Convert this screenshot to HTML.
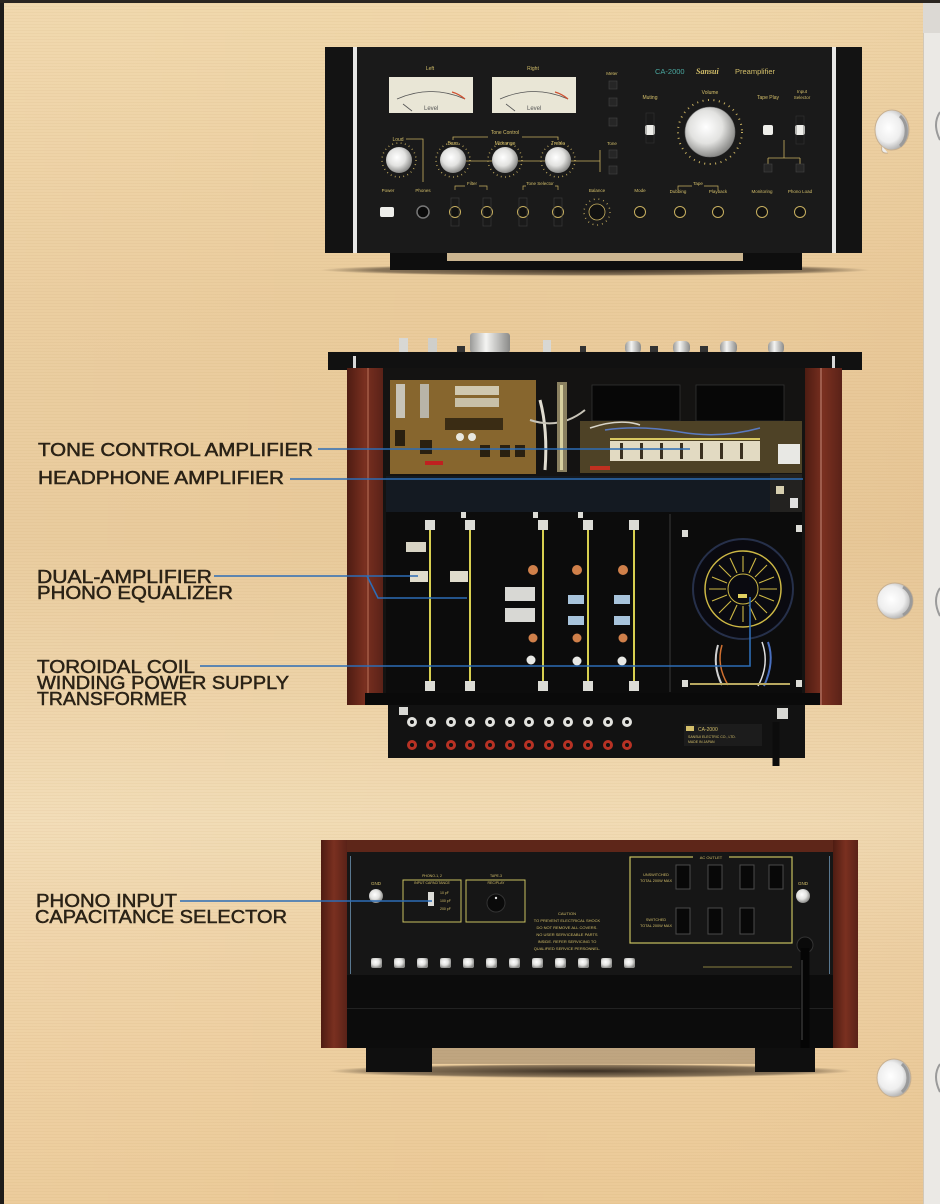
<!DOCTYPE html>
<html><head><meta charset="utf-8">
<style>
html,body{margin:0;padding:0;width:940px;height:1204px;overflow:hidden;background:#ecd0a2;}
svg{display:block}
.lb{font-family:"Liberation Sans",sans-serif;font-size:18.5px;fill:#2a2216;stroke:#2a2216;stroke-width:0.5px;}
.g{font-family:"Liberation Sans",sans-serif;fill:#d4bf6a;}
</style></head>
<body>
<svg width="940" height="1204" viewBox="0 0 940 1204" xmlns="http://www.w3.org/2000/svg">
<defs>
<linearGradient id="bg" x1="0" y1="0" x2="0" y2="1">
<stop offset="0" stop-color="#f0d7aa"/>
<stop offset="0.25" stop-color="#eacb9b"/>
<stop offset="0.45" stop-color="#e8c999"/>
<stop offset="0.6" stop-color="#eed4a9"/>
<stop offset="0.68" stop-color="#f1dbb4"/>
<stop offset="0.8" stop-color="#eed1a4"/>
<stop offset="1" stop-color="#ebc996"/>
</linearGradient>
<linearGradient id="bgh" x1="0" y1="0" x2="1" y2="0">
<stop offset="0" stop-color="#fff" stop-opacity="0.06"/>
<stop offset="0.5" stop-color="#fff" stop-opacity="0"/>
<stop offset="1" stop-color="#c89060" stop-opacity="0.06"/>
</linearGradient>
<pattern id="tex" width="6" height="3" patternUnits="userSpaceOnUse">
<rect width="6" height="1" fill="#c08a55" opacity="0.07"/>
</pattern>
<radialGradient id="kn" cx="0.42" cy="0.4" r="0.6">
<stop offset="0" stop-color="#ffffff"/>
<stop offset="0.55" stop-color="#e2e2e0"/>
<stop offset="1" stop-color="#8c8c8a"/>
</radialGradient>
<linearGradient id="wood" x1="0" y1="0" x2="1" y2="0">
<stop offset="0" stop-color="#4e1c12"/>
<stop offset="0.5" stop-color="#7a3020"/>
<stop offset="1" stop-color="#5a2218"/>
</linearGradient>
<linearGradient id="cyl" x1="0" y1="0" x2="1" y2="0">
<stop offset="0" stop-color="#9a9a98"/>
<stop offset="0.4" stop-color="#f4f4f2"/>
<stop offset="1" stop-color="#8a8a88"/>
</linearGradient>
<radialGradient id="hole" cx="0.4" cy="0.45" r="0.6">
<stop offset="0" stop-color="#ffffff"/>
<stop offset="0.6" stop-color="#eeeeee"/>
<stop offset="1" stop-color="#a8a8a8"/>
</radialGradient>
<radialGradient id="shd" cx="0.5" cy="0.5" r="0.5">
<stop offset="0" stop-color="#1a120c" stop-opacity="0.85"/>
<stop offset="0.8" stop-color="#2a2018" stop-opacity="0.5"/>
<stop offset="1" stop-color="#2a2018" stop-opacity="0"/>
</radialGradient>
</defs>

<!-- background -->
<rect width="940" height="1204" fill="url(#bg)"/>
<rect width="940" height="1204" fill="url(#bgh)"/>
<rect width="923" height="1204" fill="url(#tex)"/>
<!-- borders -->
<rect x="0" y="0" width="4" height="1204" fill="#1e1c1a"/>
<rect x="0" y="0" width="940" height="3" fill="#2a2520"/>
<rect x="923" y="3" width="17" height="1201" fill="#ebe9e5"/>
<rect x="923" y="3" width="1" height="1201" fill="#d2c8b8"/>
<rect x="923" y="3" width="17" height="30" fill="#dcd9d4"/>
<!-- binder holes -->
<g>
<ellipse cx="892" cy="130" rx="17" ry="20" fill="url(#hole)" stroke="#c8b090" stroke-width="1"/>
<path d="M882 146 q-2 8 6 7" fill="#eeeeee" stroke="#c8b090" stroke-width="1"/>
<path d="M900 116 a16 19 0 0 1 0 30" stroke="#9a9a9a" stroke-width="3" fill="none"/>
<ellipse cx="895" cy="601" rx="18" ry="18" fill="url(#hole)" stroke="#c8b090" stroke-width="1"/>
<path d="M903 587 a16 16 0 0 1 0 28" stroke="#9a9a9a" stroke-width="3" fill="none"/>
<ellipse cx="894" cy="1078" rx="17" ry="19" fill="url(#hole)" stroke="#c8b090" stroke-width="1"/>
<path d="M902 1064 a16 18 0 0 1 0 28" stroke="#9a9a9a" stroke-width="3" fill="none"/>
<path d="M940 112 q-8 12 0 28" stroke="#9a9a9a" stroke-width="2" fill="none"/>
<path d="M940 588 q-8 12 0 28" stroke="#9a9a9a" stroke-width="2" fill="none"/>
<path d="M940 1064 q-8 12 0 28" stroke="#9a9a9a" stroke-width="2" fill="none"/>
</g>

<!-- ================= FRONT PANEL ================= -->
<g>
<ellipse cx="595" cy="270" rx="275" ry="6" fill="url(#shd)"/>
<rect x="390" y="250" width="412" height="20" fill="#0e0e0e"/>
<rect x="447" y="253" width="296" height="8" fill="#cbb590"/>
<rect x="325" y="47" width="28" height="206" fill="#131313"/>
<rect x="353" y="47" width="4" height="206" fill="#e8e8e6"/>
<rect x="357" y="47" width="475" height="206" fill="#1a1a1a"/>
<rect x="832" y="47" width="4" height="206" fill="#e8e8e6"/>
<rect x="836" y="47" width="26" height="206" fill="#131313"/>
<!-- meters -->
<text class="g" x="430" y="70" font-size="5" text-anchor="middle">Left</text>
<text class="g" x="533" y="70" font-size="5" text-anchor="middle">Right</text>
<rect x="389" y="77" width="84" height="36" fill="#e9e6d6"/>
<path d="M397 99 Q431 84 465 99" stroke="#555" fill="none" stroke-width="0.8"/>
<path d="M452 92 Q459 94 465 99" stroke="#d05030" fill="none" stroke-width="1.2"/>
<line x1="403" y1="104" x2="412" y2="111" stroke="#555" stroke-width="0.8"/>
<text x="424" y="110" font-size="6" fill="#555" font-family="Liberation Sans,sans-serif">Level</text>
<rect x="492" y="77" width="84" height="36" fill="#e9e6d6"/>
<path d="M500 99 Q534 84 568 99" stroke="#555" fill="none" stroke-width="0.8"/>
<path d="M555 92 Q562 94 568 99" stroke="#d05030" fill="none" stroke-width="1.2"/>
<line x1="506" y1="104" x2="515" y2="111" stroke="#555" stroke-width="0.8"/>
<text x="527" y="110" font-size="6" fill="#555" font-family="Liberation Sans,sans-serif">Level</text>
<!-- meter buttons -->
<text class="g" x="612" y="75" font-size="4.5" text-anchor="middle">Meter</text>
<rect x="609" y="81" width="8" height="8" fill="#262626" stroke="#444" stroke-width="0.6"/>
<rect x="609" y="98" width="8" height="8" fill="#262626" stroke="#444" stroke-width="0.6"/>
<rect x="609" y="118" width="8" height="8" fill="#262626" stroke="#444" stroke-width="0.6"/>
<text class="g" x="612" y="145" font-size="4.5" text-anchor="middle">Tone</text>
<rect x="609" y="150" width="8" height="8" fill="#262626" stroke="#444" stroke-width="0.6"/>
<rect x="609" y="166" width="8" height="8" fill="#262626" stroke="#444" stroke-width="0.6"/>
<!-- brand -->
<text x="655" y="74" font-size="7.5" fill="#4aa8a0" font-family="Liberation Sans,sans-serif">CA-2000</text>
<text x="696" y="74" font-size="8" fill="#d4bf6a" font-family="Liberation Serif,serif" font-style="italic" font-weight="bold">Sansui</text>
<text x="735" y="74" font-size="7.5" fill="#d4bf6a" font-family="Liberation Sans,sans-serif">Preamplifier</text>
<!-- labels right -->
<text class="g" x="650" y="99" font-size="5" text-anchor="middle">Muting</text>
<text class="g" x="710" y="94" font-size="5" text-anchor="middle">Volume</text>
<text class="g" x="768" y="99" font-size="5" text-anchor="middle">Tape Play</text>
<text class="g" x="802" y="93" font-size="4.5" text-anchor="middle">Input</text>
<text class="g" x="802" y="99" font-size="4.5" text-anchor="middle">Selector</text>
<!-- volume -->
<circle cx="710" cy="132" r="32" fill="none" stroke="#c8b060" stroke-width="2" stroke-dasharray="1 4.5"/>
<circle cx="710" cy="132" r="25" fill="url(#kn)"/>
<circle cx="710" cy="132" r="25" fill="none" stroke="#777" stroke-width="0.6"/>
<!-- muting / tape / input switches -->
<rect x="645" y="125" width="10" height="10" rx="2" fill="#eeeeea"/>
<rect x="646" y="113" width="8" height="30" fill="none" stroke="#333" stroke-width="0.6"/>
<rect x="763" y="125" width="10" height="10" rx="2" fill="#eeeeea"/>
<rect x="795" y="125" width="10" height="10" rx="2" fill="#eeeeea"/>
<rect x="796" y="116" width="8" height="28" fill="none" stroke="#333" stroke-width="0.6"/>
<path d="M784 140 V158 M768 158 H800 M768 158 V164 M800 158 V164" stroke="#c8b060" stroke-width="0.8" fill="none"/>
<rect x="764" y="164" width="8" height="8" fill="#262626" stroke="#444" stroke-width="0.6"/>
<rect x="796" y="164" width="8" height="8" fill="#262626" stroke="#444" stroke-width="0.6"/>
<!-- tone control -->
<text class="g" x="505" y="134" font-size="5" text-anchor="middle">Tone Control</text>
<path d="M453 140 V137 H488 M522 137 H558 V140" stroke="#c8b060" stroke-width="0.8" fill="none"/>
<text class="g" x="398" y="141" font-size="5" text-anchor="middle">Loud</text>
<path d="M406 139 H423 V182" stroke="#c8b060" stroke-width="0.8" fill="none"/>
<text class="g" x="453" y="145" font-size="5" text-anchor="middle">Bass</text>
<text class="g" x="505" y="145" font-size="5" text-anchor="middle">Midrange</text>
<text class="g" x="558" y="145" font-size="5" text-anchor="middle">Treble</text>
<path d="M466 161 H492 M518 161 H545 M571 161 H600 M600 150 V172" stroke="#c8b060" stroke-width="0.8" fill="none"/>
<g fill="none" stroke="#c8b060" stroke-width="1.5" stroke-dasharray="0.8 3.5">
<circle cx="399" cy="160" r="17"/><circle cx="453" cy="160" r="17"/><circle cx="505" cy="160" r="17"/><circle cx="558" cy="160" r="17"/>
</g>
<circle cx="399" cy="160" r="13" fill="url(#kn)"/>
<circle cx="453" cy="160" r="13" fill="url(#kn)"/>
<circle cx="505" cy="160" r="13" fill="url(#kn)"/>
<circle cx="558" cy="160" r="13" fill="url(#kn)"/>
<!-- bottom row -->
<text class="g" x="388" y="192" font-size="4.5" text-anchor="middle">Power</text>
<text class="g" x="423" y="192" font-size="4.5" text-anchor="middle">Phones</text>
<text class="g" x="472" y="185" font-size="4.5" text-anchor="middle">Filter</text>
<path d="M455 190 V186 H465 M479 186 H487 V190" stroke="#c8b060" stroke-width="0.7" fill="none"/>
<text class="g" x="540" y="185" font-size="4.5" text-anchor="middle">Tone Selector</text>
<path d="M523 190 V186 H526 M555 186 H558 V190" stroke="#c8b060" stroke-width="0.7" fill="none"/>
<text class="g" x="597" y="192" font-size="4.5" text-anchor="middle">Balance</text>
<text class="g" x="640" y="192" font-size="4.5" text-anchor="middle">Mode</text>
<text class="g" x="698" y="185" font-size="4.5" text-anchor="middle">Tape</text>
<path d="M678 190 V186 H692 M704 186 H718 V190" stroke="#c8b060" stroke-width="0.7" fill="none"/>
<text class="g" x="678" y="193" font-size="4.5" text-anchor="middle">Dubbing</text>
<text class="g" x="718" y="193" font-size="4.5" text-anchor="middle">Playback</text>
<text class="g" x="762" y="193" font-size="4.5" text-anchor="middle">Monitoring</text>
<text class="g" x="800" y="193" font-size="4.5" text-anchor="middle">Phono Load</text>
<rect x="380" y="207" width="14" height="10" rx="2" fill="#eeeeea"/>
<circle cx="423" cy="212" r="6" fill="#0a0a0a" stroke="#777" stroke-width="1.5"/>
<g fill="#111" stroke="#c8b060" stroke-width="1">
<circle cx="455" cy="212" r="5.5"/><circle cx="487" cy="212" r="5.5"/><circle cx="523" cy="212" r="5.5"/><circle cx="558" cy="212" r="5.5"/>
<circle cx="640" cy="212" r="5.5"/><circle cx="680" cy="212" r="5.5"/><circle cx="718" cy="212" r="5.5"/><circle cx="762" cy="212" r="5.5"/><circle cx="800" cy="212" r="5.5"/>
</g>
<circle cx="597" cy="212" r="13" fill="none" stroke="#c8b060" stroke-width="1.5" stroke-dasharray="0.8 4"/>
<circle cx="597" cy="212" r="8" fill="#111" stroke="#c8b060" stroke-width="0.8"/>
<g fill="none" stroke="#3a3a3a" stroke-width="0.7">
<rect x="451" y="198" width="8" height="28"/><rect x="483" y="198" width="8" height="28"/><rect x="519" y="198" width="8" height="28"/><rect x="554" y="198" width="8" height="28"/>
</g>
</g>

<!-- ================= TOP VIEW ================= -->
<g>
<!-- protruding knobs -->
<rect x="399" y="338" width="9" height="15" fill="#d8d8d4"/>
<rect x="428" y="338" width="9" height="15" fill="#cfcfcb"/>
<rect x="470" y="333" width="40" height="20" rx="3" fill="url(#cyl)"/>
<rect x="543" y="340" width="8" height="13" fill="#d8d8d4"/>
<rect x="457" y="346" width="8" height="7" fill="#333"/>
<rect x="580" y="346" width="6" height="7" fill="#333"/>
<rect x="650" y="346" width="8" height="7" fill="#333"/>
<rect x="700" y="346" width="8" height="7" fill="#333"/>
<rect x="625" y="341" width="16" height="13" rx="5" fill="url(#cyl)"/>
<rect x="673" y="341" width="17" height="13" rx="5" fill="url(#cyl)"/>
<rect x="720" y="341" width="17" height="13" rx="5" fill="url(#cyl)"/>
<rect x="768" y="341" width="16" height="13" rx="5" fill="url(#cyl)"/>
<!-- front bar -->
<rect x="328" y="352" width="534" height="18" fill="#111"/>
<rect x="353" y="356" width="3" height="14" fill="#d8d8d8"/>
<rect x="832" y="356" width="3" height="14" fill="#d8d8d8"/>
<!-- wood sides -->
<rect x="347" y="368" width="36" height="337" fill="url(#wood)"/>
<rect x="367" y="368" width="2" height="337" fill="#a86048" opacity="0.7"/>
<rect x="805" y="368" width="37" height="337" fill="url(#wood)"/>
<rect x="820" y="368" width="2" height="337" fill="#b07060" opacity="0.7"/>
<!-- chassis -->
<rect x="383" y="368" width="422" height="332" fill="#141312"/>
<!-- upper boards -->
<rect x="390" y="380" width="146" height="94" fill="#87662e"/>
<rect x="396" y="384" width="9" height="34" fill="#c8c4b8"/>
<rect x="420" y="384" width="9" height="34" fill="#b8b4a8"/>
<rect x="455" y="386" width="44" height="9" fill="#d0c8b0"/>
<rect x="455" y="398" width="44" height="9" fill="#c8c0a8"/>
<rect x="445" y="418" width="58" height="12" fill="#3a2c14"/>
<circle cx="460" cy="437" r="4" fill="#e8e8e0"/><circle cx="472" cy="437" r="4" fill="#e8e8e0"/>
<g fill="#2a2010"><rect x="395" y="430" width="10" height="16"/><rect x="420" y="440" width="12" height="14"/><rect x="480" y="445" width="10" height="12"/><rect x="500" y="445" width="10" height="12"/><rect x="515" y="445" width="10" height="12"/></g>
<rect x="425" y="461" width="18" height="4" fill="#c02020"/>
<path d="M540 400 Q548 430 545 470" stroke="#e0dcd0" stroke-width="3" fill="none"/>
<path d="M530 420 Q560 430 585 410" stroke="#c8c4b8" stroke-width="2" fill="none"/>
<rect x="557" y="382" width="10" height="90" fill="#8a8060"/>
<rect x="560" y="385" width="3" height="85" fill="#d8d0a0"/>
<rect x="592" y="385" width="88" height="36" fill="#070707" stroke="#333" stroke-width="0.8"/>
<rect x="696" y="385" width="88" height="36" fill="#070707" stroke="#333" stroke-width="0.8"/>
<rect x="580" y="421" width="222" height="52" fill="#4e4226"/>
<path d="M605 430 Q640 425 680 432 T760 428" stroke="#5a7ac0" stroke-width="1.5" fill="none"/>
<path d="M590 428 Q620 418 640 425" stroke="#d8d4c8" stroke-width="1.5" fill="none"/>
<rect x="610" y="441" width="150" height="20" fill="#e2dac2"/>
<g fill="#3a3020"><rect x="620" y="443" width="3" height="16"/><rect x="640" y="443" width="3" height="16"/><rect x="660" y="443" width="3" height="16"/><rect x="680" y="443" width="3" height="16"/><rect x="700" y="443" width="3" height="16"/><rect x="720" y="443" width="3" height="16"/><rect x="740" y="443" width="3" height="16"/></g>
<rect x="610" y="438" width="150" height="2" fill="#d8c860"/>
<rect x="778" y="444" width="22" height="20" fill="#e8e8e4"/>
<rect x="590" y="466" width="20" height="4" fill="#c03020"/>
<!-- dark band -->
<rect x="386" y="476" width="384" height="36" fill="#141a22"/>
<rect x="770" y="474" width="32" height="38" fill="#232220"/>
<rect x="776" y="486" width="8" height="8" fill="#d8d0b0"/>
<rect x="790" y="498" width="8" height="10" fill="#e0e0e0"/>
<!-- lower section -->
<rect x="386" y="512" width="416" height="183" fill="#0c0c0c"/>
<line x1="670" y1="514" x2="670" y2="692" stroke="#3a3a3a" stroke-width="1"/>
<g fill="#d8d050"><rect x="429" y="525" width="2" height="165"/><rect x="469" y="525" width="2" height="165"/><rect x="542" y="525" width="2" height="165"/><rect x="587" y="525" width="2" height="165"/><rect x="633" y="525" width="2" height="165"/></g>
<g fill="#dcdcd6">
<rect x="425" y="520" width="10" height="10"/><rect x="465" y="520" width="10" height="10"/><rect x="538" y="520" width="10" height="10"/><rect x="583" y="520" width="10" height="10"/><rect x="629" y="520" width="10" height="10"/>
<rect x="425" y="681" width="10" height="10"/><rect x="465" y="681" width="10" height="10"/><rect x="538" y="681" width="10" height="10"/><rect x="583" y="681" width="10" height="10"/><rect x="629" y="681" width="10" height="10"/>
<rect x="461" y="512" width="5" height="6"/><rect x="533" y="512" width="5" height="6"/><rect x="578" y="512" width="5" height="6"/><rect x="682" y="530" width="6" height="7"/><rect x="796" y="525" width="6" height="7"/><rect x="682" y="680" width="6" height="7"/><rect x="796" y="680" width="6" height="7"/>
</g>
<rect x="406" y="542" width="20" height="10" fill="#d8d4c4"/>
<rect x="410" y="571" width="18" height="11" fill="#e0dccc"/>
<rect x="450" y="571" width="18" height="11" fill="#e0dccc"/>
<rect x="505" y="587" width="30" height="14" fill="#d8d8d4"/>
<rect x="505" y="608" width="30" height="14" fill="#d8d8d4"/>
<rect x="568" y="595" width="16" height="9" fill="#a8c4dc"/>
<rect x="568" y="616" width="16" height="9" fill="#a8c4dc"/>
<rect x="614" y="595" width="16" height="9" fill="#a8c4dc"/>
<rect x="614" y="616" width="16" height="9" fill="#a8c4dc"/>
<g fill="#d0804a"><circle cx="533" cy="570" r="5"/><circle cx="577" cy="570" r="5"/><circle cx="623" cy="570" r="5"/><circle cx="533" cy="638" r="4.5"/><circle cx="577" cy="638" r="4.5"/><circle cx="623" cy="638" r="4.5"/></g>
<g fill="#e8e8e4"><circle cx="531" cy="660" r="4.5"/><circle cx="577" cy="661" r="4.5"/><circle cx="622" cy="661" r="4.5"/></g>
<!-- transformer -->
<circle cx="743" cy="589" r="50" fill="#0a0a10" stroke="#26304a" stroke-width="2"/>
<circle cx="743" cy="589" r="38" fill="none" stroke="#cdb845" stroke-width="1.5"/>
<circle cx="743" cy="589" r="15" fill="none" stroke="#cdb845" stroke-width="1"/>
<g stroke="#cdb845" stroke-width="1.1">
<line x1="743" y1="572" x2="743" y2="556"/><line x1="755" y1="577" x2="767" y2="565"/><line x1="760" y1="589" x2="777" y2="589"/><line x1="755" y1="601" x2="767" y2="613"/><line x1="743" y1="606" x2="743" y2="622"/><line x1="731" y1="601" x2="719" y2="613"/><line x1="726" y1="589" x2="709" y2="589"/><line x1="731" y1="577" x2="719" y2="565"/>
<line x1="749" y1="573" x2="756" y2="558"/><line x1="759" y1="583" x2="774" y2="577"/><line x1="759" y1="595" x2="774" y2="601"/><line x1="737" y1="605" x2="730" y2="620"/><line x1="727" y1="595" x2="712" y2="601"/><line x1="727" y1="583" x2="712" y2="577"/><line x1="737" y1="573" x2="730" y2="558"/><line x1="749" y1="605" x2="756" y2="620"/>
</g>
<rect x="738" y="594" width="9" height="4" fill="#e0d060"/>
<!-- wires -->
<path d="M718 645 Q712 665 722 685" stroke="#d0d0d0" stroke-width="2" fill="none"/>
<path d="M722 645 Q716 665 728 685" stroke="#d07030" stroke-width="1.5" fill="none"/>
<path d="M768 642 Q775 662 764 686" stroke="#4a70c0" stroke-width="2" fill="none"/>
<path d="M762 642 Q770 664 758 686" stroke="#e0e0e0" stroke-width="1.5" fill="none"/>
<path d="M690 684 H790" stroke="#b8a860" stroke-width="2"/>
<!-- bottom edge -->
<rect x="365" y="693" width="455" height="12" fill="#0a0a0a"/>
<!-- rear panel seen from top -->
<rect x="388" y="705" width="417" height="53" fill="#121212"/>
<rect x="399" y="707" width="9" height="8" fill="#d8d8d4"/>
<rect x="777" y="708" width="11" height="11" fill="#d8d8d4"/>
<g fill="#e2e2de">
<circle cx="412" cy="722" r="5"/><circle cx="431" cy="722" r="5"/><circle cx="451" cy="722" r="5"/><circle cx="470" cy="722" r="5"/><circle cx="490" cy="722" r="5"/><circle cx="510" cy="722" r="5"/><circle cx="529" cy="722" r="5"/><circle cx="549" cy="722" r="5"/><circle cx="568" cy="722" r="5"/><circle cx="588" cy="722" r="5"/><circle cx="608" cy="722" r="5"/><circle cx="627" cy="722" r="5"/>
</g>
<g fill="#b83224">
<circle cx="412" cy="745" r="5"/><circle cx="431" cy="745" r="5"/><circle cx="451" cy="745" r="5"/><circle cx="470" cy="745" r="5"/><circle cx="490" cy="745" r="5"/><circle cx="510" cy="745" r="5"/><circle cx="529" cy="745" r="5"/><circle cx="549" cy="745" r="5"/><circle cx="568" cy="745" r="5"/><circle cx="588" cy="745" r="5"/><circle cx="608" cy="745" r="5"/><circle cx="627" cy="745" r="5"/>
</g>
<g fill="#111">
<circle cx="412" cy="722" r="2"/><circle cx="431" cy="722" r="2"/><circle cx="451" cy="722" r="2"/><circle cx="470" cy="722" r="2"/><circle cx="490" cy="722" r="2"/><circle cx="510" cy="722" r="2"/><circle cx="529" cy="722" r="2"/><circle cx="549" cy="722" r="2"/><circle cx="568" cy="722" r="2"/><circle cx="588" cy="722" r="2"/><circle cx="608" cy="722" r="2"/><circle cx="627" cy="722" r="2"/>
<circle cx="412" cy="745" r="2"/><circle cx="431" cy="745" r="2"/><circle cx="451" cy="745" r="2"/><circle cx="470" cy="745" r="2"/><circle cx="490" cy="745" r="2"/><circle cx="510" cy="745" r="2"/><circle cx="529" cy="745" r="2"/><circle cx="549" cy="745" r="2"/><circle cx="568" cy="745" r="2"/><circle cx="588" cy="745" r="2"/><circle cx="608" cy="745" r="2"/><circle cx="627" cy="745" r="2"/>
</g>
<rect x="684" y="724" width="78" height="22" fill="#1c1c1c"/>
<rect x="686" y="726" width="8" height="5" fill="#d4bf6a"/>
<text class="g" x="698" y="731" font-size="5">CA-2000</text>
<text class="g" x="688" y="738" font-size="3.5">SANSUI ELECTRIC CO., LTD.</text>
<text class="g" x="688" y="743" font-size="3.5">MADE IN JAPAN</text>
<path d="M776 722 V766" stroke="#0c0c0c" stroke-width="7"/>
</g>

<!-- ================= REAR VIEW ================= -->
<g>
<ellipse cx="590" cy="1071" rx="262" ry="7" fill="url(#shd)"/>
<rect x="432" y="1048" width="323" height="16" fill="#6a5a48" opacity="0.35"/>
<rect x="366" y="1045" width="66" height="27" fill="#0f0f0f"/>
<rect x="755" y="1045" width="60" height="27" fill="#0f0f0f"/>
<rect x="321" y="840" width="26" height="208" fill="url(#wood)"/>
<rect x="833" y="840" width="25" height="208" fill="url(#wood)"/>
<rect x="347" y="840" width="486" height="12" fill="#5e2619"/>
<rect x="347" y="852" width="486" height="196" fill="#161616"/>
<rect x="347" y="975" width="486" height="73" fill="#0c0c0c"/>
<rect x="347" y="1008" width="486" height="1" fill="#222"/>
<rect x="350" y="856" width="1" height="118" fill="#5a7890"/>
<rect x="829" y="856" width="1" height="118" fill="#5a7890"/>
<!-- gnd -->
<text class="g" x="376" y="885" font-size="4.5" text-anchor="middle">GND</text>
<circle cx="376" cy="896" r="7" fill="url(#kn)"/>
<text class="g" x="803" y="885" font-size="4.5" text-anchor="middle">GND</text>
<circle cx="803" cy="896" r="7" fill="url(#kn)"/>
<!-- boxes -->
<rect x="403" y="880" width="58" height="42" fill="none" stroke="#c8c060" stroke-width="1"/>
<text class="g" x="432" y="877" font-size="3.5" text-anchor="middle">PHONO-1, 2</text>
<text class="g" x="432" y="884" font-size="3.5" text-anchor="middle">INPUT CAPACITANCE</text>
<rect x="428" y="892" width="6" height="14" fill="#dcdcd8"/>
<text class="g" x="440" y="894" font-size="3.5">10 pF</text>
<text class="g" x="440" y="902" font-size="3.5">100 pF</text>
<text class="g" x="440" y="910" font-size="3.5">200 pF</text>
<rect x="466" y="880" width="59" height="42" fill="none" stroke="#c8c060" stroke-width="1"/>
<text class="g" x="496" y="877" font-size="3.5" text-anchor="middle">TAPE-3</text>
<text class="g" x="496" y="884" font-size="3.5" text-anchor="middle">REC/PLAY</text>
<circle cx="496" cy="903" r="9" fill="#0a0a0a" stroke="#333" stroke-width="1"/>
<circle cx="496" cy="898" r="1.2" fill="#ddd"/>
<!-- caution -->
<g class="g" font-size="4" text-anchor="middle">
<text x="567" y="915">CAUTION</text>
<text x="567" y="922">TO PREVENT ELECTRICAL SHOCK</text>
<text x="567" y="929">DO NOT REMOVE ALL COVERS.</text>
<text x="567" y="936">NO USER SERVICEABLE PARTS</text>
<text x="567" y="943">INSIDE. REFER SERVICING TO</text>
<text x="567" y="950">QUALIFIED SERVICE PERSONNEL.</text>
</g>
<!-- ac outlet -->
<rect x="630" y="857" width="162" height="86" fill="none" stroke="#c8c060" stroke-width="1.2"/>
<rect x="693" y="854" width="36" height="6" fill="#161616"/>
<text class="g" x="711" y="859" font-size="4" text-anchor="middle">AC OUTLET</text>
<text class="g" x="656" y="876" font-size="3.8" text-anchor="middle">UNSWITCHED</text>
<text class="g" x="656" y="882" font-size="3.8" text-anchor="middle">TOTAL 200W MAX</text>
<text class="g" x="656" y="921" font-size="3.8" text-anchor="middle">SWITCHED</text>
<text class="g" x="656" y="927" font-size="3.8" text-anchor="middle">TOTAL 200W MAX</text>
<g fill="#080808" stroke="#4a4a4a" stroke-width="1">
<rect x="676" y="865" width="14" height="24"/><rect x="708" y="865" width="14" height="24"/><rect x="740" y="865" width="14" height="24"/><rect x="769" y="865" width="14" height="24"/>
<rect x="676" y="908" width="14" height="26"/><rect x="708" y="908" width="14" height="26"/><rect x="740" y="908" width="14" height="26"/>
</g>
<!-- knob row -->
<g fill="url(#kn)">
<rect x="371" y="958" width="11" height="10" rx="2"/><rect x="394" y="958" width="11" height="10" rx="2"/><rect x="417" y="958" width="11" height="10" rx="2"/><rect x="440" y="958" width="11" height="10" rx="2"/><rect x="463" y="958" width="11" height="10" rx="2"/><rect x="486" y="958" width="11" height="10" rx="2"/><rect x="509" y="958" width="11" height="10" rx="2"/><rect x="532" y="958" width="11" height="10" rx="2"/><rect x="555" y="958" width="11" height="10" rx="2"/><rect x="578" y="958" width="11" height="10" rx="2"/><rect x="601" y="958" width="11" height="10" rx="2"/><rect x="624" y="958" width="11" height="10" rx="2"/>
</g>
<line x1="703" y1="967" x2="792" y2="967" stroke="#8a8040" stroke-width="1"/>
<!-- power cord -->
<circle cx="805" cy="945" r="8" fill="#0a0a0a" stroke="#333" stroke-width="1"/>
<path d="M805 948 V1048" stroke="#050505" stroke-width="9"/>
<path d="M802 960 V1040" stroke="#4a4a4a" stroke-width="1"/>
</g>

<!-- ================= LEADER LINES ================= -->
<g stroke="#2d6db5" stroke-width="1.6" fill="none">
<path d="M318 449 H690"/>
<path d="M290 479 H803"/>
<path d="M214 576 H418"/>
<path d="M367 576 L378 598 H467"/>
<path d="M200 666 H750 V597"/>
<path d="M180 901 H432"/>
</g>

<!-- ================= LABELS ================= -->
<text class="lb" x="38" y="456" textLength="275" lengthAdjust="spacingAndGlyphs">TONE CONTROL AMPLIFIER</text>
<text class="lb" x="38" y="484" textLength="246" lengthAdjust="spacingAndGlyphs">HEADPHONE AMPLIFIER</text>
<text class="lb" x="37" y="583" textLength="175" lengthAdjust="spacingAndGlyphs">DUAL-AMPLIFIER</text>
<text class="lb" x="37" y="599" textLength="196" lengthAdjust="spacingAndGlyphs">PHONO EQUALIZER</text>
<text class="lb" x="37" y="673" textLength="158" lengthAdjust="spacingAndGlyphs">TOROIDAL COIL</text>
<text class="lb" x="37" y="689" textLength="252" lengthAdjust="spacingAndGlyphs">WINDING POWER SUPPLY</text>
<text class="lb" x="37" y="705" textLength="150" lengthAdjust="spacingAndGlyphs">TRANSFORMER</text>
<text class="lb" x="36" y="907" textLength="141" lengthAdjust="spacingAndGlyphs">PHONO INPUT</text>
<text class="lb" x="35" y="923" textLength="252" lengthAdjust="spacingAndGlyphs">CAPACITANCE SELECTOR</text>
</svg>
</body></html>
